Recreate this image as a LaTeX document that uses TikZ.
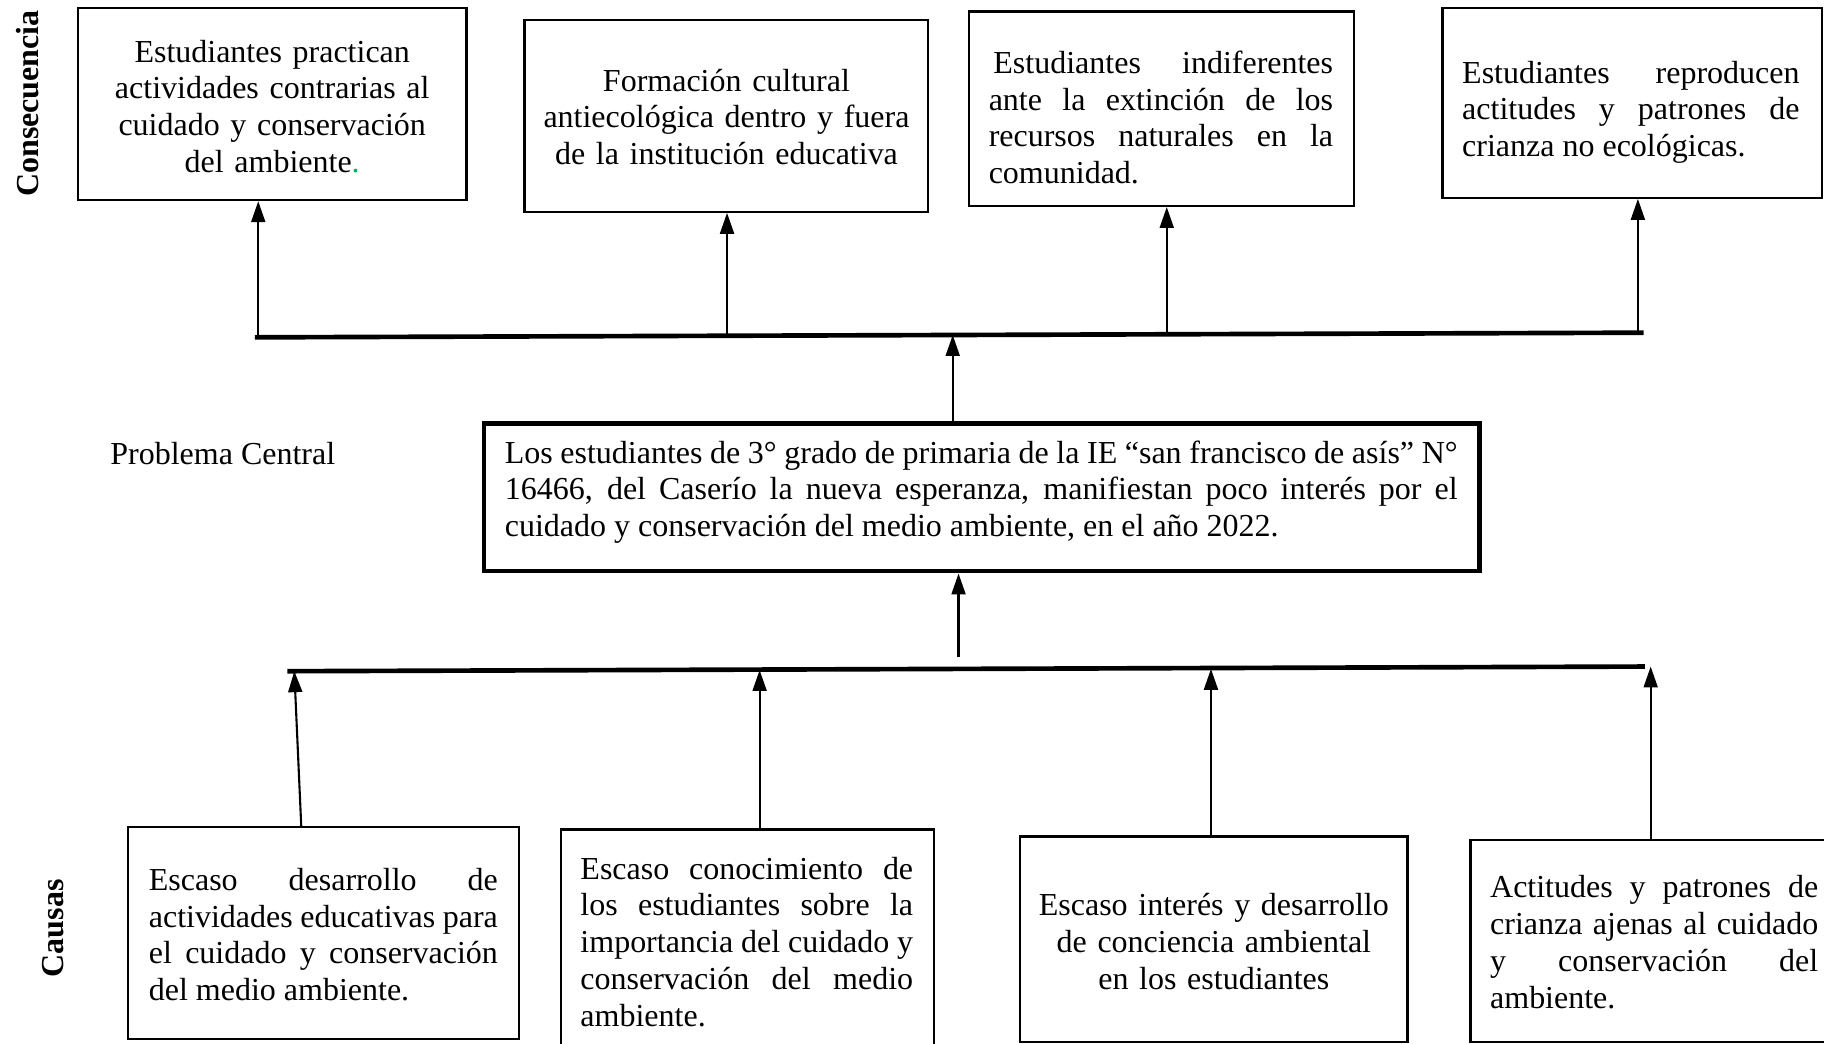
\documentclass[tikz,border=0pt]{standalone}
\usepackage{fontspec}
\setmainfont{Liberation Serif}
\usetikzlibrary{arrows.meta,fit}
\definecolor{dotgreen}{RGB}{0,176,80}
\begin{document}
\begin{tikzpicture}[x=0.5pt,y=-0.5pt,
  font=\fontsize{13.75}{15.8}\selectfont,
  box/.style={draw, line width=1pt, inner sep=0pt},
  cbox/.style={draw, line width=2pt, inner sep=0pt},
  jtxt/.style={inner sep=0pt, align=justify},
  ctxt/.style={inner sep=0pt, align=center},
  side/.style={inner sep=0pt, rotate=90, font=\fontsize{13.75}{15.8}\selectfont\bfseries},
  bar/.style={line width=2pt},
  arr/.style={line width=0.9pt, -{Triangle[length=9pt,width=6pt]}}]
\useasboundingbox (0,0) rectangle (1568,897);

% side labels
\node[side] (lcons) at (24,89) {Consecuencia};
\node[side] (lcaus) at (46,798) {Causas};

% consequence boxes
\node[box, fit={(67,7) (401,172)}] (c1) {};
\node[box, fit={(451,17) (798,182)}] (c2) {};
\node[box, fit={(833,10) (1164,177)}] (c3) {};
\node[box, fit={(1240,7) (1566,170)}] (c4) {};

\node[ctxt, text width=150pt] (c1t) at (234,91.5) {Estudiantes practican\\ actividades contrarias al\\ cuidado y conservación\\ del ambiente\textcolor{dotgreen}{.}};
\node[ctxt, text width=165pt] (c2t) at (624.5,100.5) {Formación cultural\\ antiecológica dentro y fuera\\ de la institución educativa};
\node[jtxt, text width=148pt] (c3t) at (998,101) {\hspace{2pt}Estudiantes indiferentes\linebreak ante la extinción de los\linebreak recursos naturales en la\linebreak comunidad.};
\node[jtxt, text width=145pt] (c4t) at (1402,96.5) {Estudiantes reproducen\linebreak actitudes y patrones de\linebreak crianza no ecológicas.};

% upper bar and arrows
\coordinate (ubl) at (219,290);
\coordinate (ubr) at (1413,286);
\draw[bar] (ubl) -- (ubr);
\coordinate (u1) at (222,289);
\coordinate (u2) at (625,288);
\coordinate (u3) at (1003,287);
\coordinate (u4) at (1408,286);
\draw[arr] (u1) -- (u1 |- c1.south);
\draw[arr] (u2) -- (u2 |- c2.south);
\draw[arr] (u3) -- (u3 |- c3.south);
\draw[arr] (u4) -- (u4 |- c4.south);

% central problem
\node[inner sep=0pt] (pc) at (191.5,390) {Problema Central};
\node[cbox, fit={(416,364) (1272,491)}] (cb) {};
\node[jtxt, text width=409.5pt] (cbt) at (843.5,423) {Los estudiantes de 3° grado de primaria de la IE “san francisco de asís” N°\linebreak 16466, del Caserío la nueva esperanza, manifiestan poco interés por el\linebreak cuidado y conservación del medio ambiente, en el año 2022.};
\coordinate (ut) at (819,288);
\draw[arr] (cb.north -| ut) -- (ut);
\coordinate (lc) at (824,565);
\draw[arr] (lc) -- (lc |- cb.south);

% lower bar and arrows
\coordinate (lbl) at (247,577);
\coordinate (lbr) at (1414,573);
\draw[bar] (lbl) -- (lbr);

% cause boxes
\node[box, fit={(110,711) (446,893)}] (k1) {};
\node[box, fit={(482,713) (803,905)}] (k2) {};
\node[box, fit={(877,719) (1210,896)}] (k3) {};
\node[box, fit={(1264,722) (1580,896)}] (k4) {};

\node[jtxt, text width=150pt] (k1t) at (278,803.5) {Escaso desarrollo de\linebreak actividades educativas para\linebreak el cuidado y conservación\linebreak del medio ambiente.};
\node[jtxt, text width=143pt] (k2t) at (642,809.5) {Escaso conocimiento de\linebreak los estudiantes sobre la\linebreak importancia del cuidado y\linebreak conservación del medio\linebreak ambiente.};
\node[ctxt, text width=170pt] (k3t) at (1043.5,809.5) {Escaso interés y desarrollo\\ de conciencia ambiental\\ en los estudiantes};
\node[jtxt, text width=141pt] (k4t) at (1422,810) {Actitudes y patrones de\linebreak crianza ajenas al cuidado\linebreak y conservación del\linebreak ambiente.};

\coordinate (d1) at (253,577);
\coordinate (d2) at (653,576);
\coordinate (d3) at (1041,575);
\coordinate (d4) at (1419,573);
\coordinate (k1top) at (259,711);
\draw[arr] (k1top) -- (d1);
\draw[arr] (k2.north -| d2) -- (d2);
\draw[arr] (k3.north -| d3) -- (d3);
\draw[arr] (k4.north -| d4) -- (d4);
\end{tikzpicture}
\end{document}
